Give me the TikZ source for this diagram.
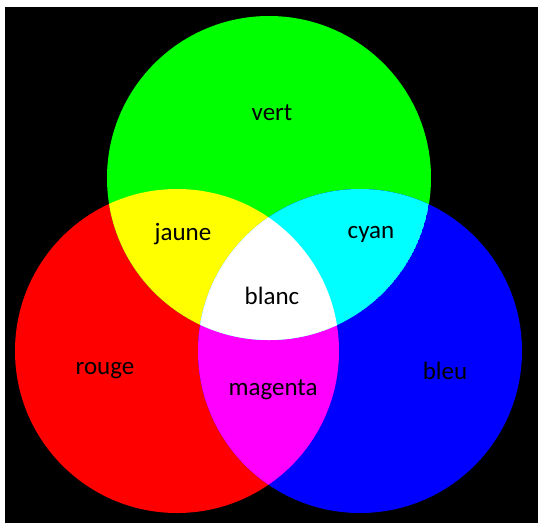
\documentclass[tikz,border=0pt]{standalone}
\usepackage{fontspec}
\setmainfont{Carlito}
\definecolor{pcyan}{RGB}{0,255,255}
\definecolor{pmagenta}{RGB}{255,0,255}
\definecolor{pyellow}{RGB}{255,255,0}
\begin{document}
\begin{tikzpicture}[x=1pt, y=-1pt,
    colname/.style={font=\fontsize{25}{30}\selectfont, text=black, inner sep=0pt}]
    \def\rad{162pt}
    \useasboundingbox (0,0) rectangle (538,523);
    \fill[black] (5,7) rectangle (538,523);

    % the three disks
    \coordinate (cg) at (269,178);
    \coordinate (cr) at (177,351);
    \coordinate (cb) at (360,351);
    \fill[red]   (cr) circle (\rad);
    \fill[green] (cg) circle (\rad);
    \fill[blue]  (cb) circle (\rad);

    % overlaps
    \begin{scope}
        \clip (cr) circle (\rad);
        \fill[pyellow] (cg) circle (\rad);
        \fill[pmagenta] (cb) circle (\rad);
        \clip (cg) circle (\rad);
        \fill[white] (cb) circle (\rad);
    \end{scope}
    \begin{scope}
        \clip (cg) circle (\rad);
        \clip (cb) circle (\rad);
        \fill[pcyan] (cg) circle (\rad);
        \clip (cr) circle (\rad);
        \fill[white] (cg) circle (\rad);
    \end{scope}

    \node (vert)    [colname] at (272,113) {vert};
    \node (jaune)   [colname] at (183,234) {jaune};
    \node (cyan)    [colname] at (371,234) {cyan};
    \node (blanc)   [colname] at (272,296) {blanc};
    \node (rouge)   [colname] at (105,371) {rouge};
    \node (magenta) [colname] at (273,390) {magenta};
    \node (bleu)    [colname] at (445,371) {bleu};
\end{tikzpicture}
\end{document}
